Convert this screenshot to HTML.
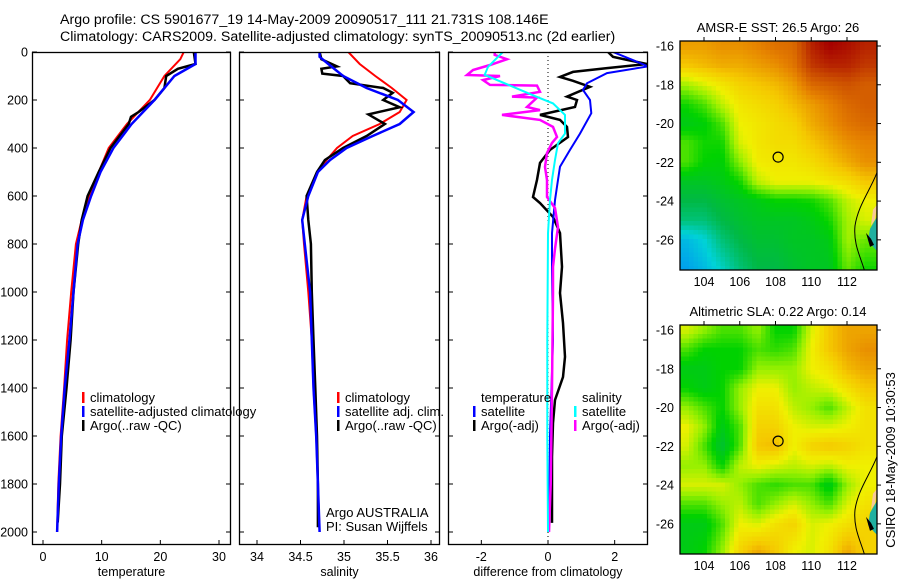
<!DOCTYPE html>
<html><head><meta charset="utf-8">
<style>
html,body{margin:0;padding:0;background:#fff;}
svg{display:block;font-family:"Liberation Sans",Arial,sans-serif;}
text{fill:#000;}
</style></head>
<body>
<svg id="fig" width="900" height="580" viewBox="0 0 900 580" xmlns="http://www.w3.org/2000/svg">
<text x="60" y="24" font-size="14.2">Argo profile: CS 5901677_19 14-May-2009 20090517_111 21.731S 108.146E</text>
<text x="60" y="41" font-size="14.2">Climatology: CARS2009. Satellite-adjusted climatology: synTS_20090513.nc (2d earlier)</text>
<g id="g"></g>
</svg>
<script>
// ---------- DATA ----------
const tClimDepth = [0,30,100,200,300,400,500,600,700,800,1000,1200,1400,1600,1800,2000];
const tClimVal   = [24,23.4,20.7,18.2,14.3,11.2,9.5,7.9,6.6,5.6,4.8,4.1,3.6,3.0,2.6,2.4];
const tSatDepth  = [0,50,100,200,300,400,500,600,700,800,1000,1200,1400,1600,1800,2000];
const tSatVal    = [26,26,22.4,19,15.1,12,9.8,8.2,6.8,5.9,5.2,4.5,3.7,3.1,2.7,2.4];
const tArgoDepth = [0,50,70,100,150,200,250,270,300,400,500,600,700,800,1000,1200,1400,1600,1800,1960];
const tArgoVal   = [25.7,26,23,21,20.7,19,16.3,15,14.6,11.5,9.5,7.6,6.6,6,5.2,4.7,4,3.2,2.9,2.5];

const sClimDepth = [0,50,100,150,200,250,300,350,400,450,500,600,700,800,1000,1200,1400,1600,1800,2000];
const sClimVal   = [35.05,35.18,35.36,35.55,35.72,35.64,35.41,35.1,34.92,34.8,34.7,34.57,34.52,34.54,34.59,34.63,34.65,34.68,34.7,34.72];
const sSatDepth  = [0,20,50,100,150,200,250,300,350,400,450,500,600,700,800,1000,1200,1400,1600,1800,2000];
const sSatVal    = [34.72,34.72,34.82,34.99,35.26,35.62,35.8,35.64,35.33,35.03,34.84,34.7,34.59,34.52,34.55,34.61,34.63,34.65,34.68,34.7,34.72];
const sArgoDepth = [0,30,60,70,90,100,130,150,170,200,230,260,300,350,400,450,500,600,700,800,1000,1200,1400,1600,1800,1980];
const sArgoVal   = [34.72,34.74,34.92,34.74,34.75,34.99,35.07,35.45,35.56,35.45,35.64,35.28,35.47,35.26,34.99,34.78,34.69,34.57,34.59,34.62,34.63,34.65,34.67,34.69,34.7,34.7];

const dTSatDepth = [0,46,60,88,130,158,200,255,340,408,478,533,617,755,895,1200,1600,2000];
const dTSatVal   = [1.95,2.76,3.0,1.77,1.17,1.05,1.26,1.3,0.96,0.66,0.36,0.3,0.21,0.12,0.12,0.15,0.06,0.03];
const dTArgoDepth = [0,20,33,50,67,83,104,120,145,186,200,229,262,283,312,354,408,462,533,604,629,687,754,895,1004,1129,1270,1354,1450,1546,1687,1825,1962];
const dTArgoVal   = [1.8,1.95,2.37,2.97,1.77,0.75,0.36,0.75,1.26,0.57,0.87,0.81,-0.24,0.36,0.57,0.6,0.06,-0.24,-0.33,-0.45,-0.24,0.15,0.36,0.42,0.36,0.45,0.51,0.45,0.21,0.15,0.12,0.12,0.12];
const dSSatDepth = [0,20,62,95,145,187,214,262,340,380,450,533,617,755,1200,1600,2000];
const dSSatVal   = [-1.35,-1.5,-1.8,-1.9,-1.05,-0.33,0.15,0.51,0.51,0.3,0.21,0.12,0.06,0.0,-0.02,-0.02,0.0];
const dSArgoDepth = [0,12,30,54,75,96,100,117,137,140,166,186,190,229,242,262,283,312,354,379,421,479,533,604,650,729,820,895,1004,1400,1800,2000];
const dSArgoVal   = [-1.6,-1.6,-1.23,-1.74,-2.25,-2.43,-1.44,-1.95,-1.74,-0.33,-0.24,-1.08,-0.33,-0.63,-0.24,-1.38,-0.24,0.15,0.27,0.12,-0.03,-0.09,-0.03,-0.03,0.21,0.3,0.21,0.15,0.15,0.12,0.08,0.03];

const depthTicks = [0,200,400,600,800,1000,1200,1400,1600,1800,2000];
const tempTicks = [0,10,20,30];
const salTicks = [34,34.5,35,35.5,36];
const salTickLabels = ["34","34.5","35","35.5","36"];
const diffTicks = [-2,0,2];
const lonTicks = [104,106,108,110,112];
const latTicks = [-16,-18,-20,-22,-24,-26];

// map grids (colour index 0..1), rows lat -16..-27.5, cols lon 103..113
const mapLats = [-16,-17,-18,-19,-20,-21,-22,-23,-24,-25,-26,-27.5];
const mapLons = [103,104,105,106,107,108,109,110,111,112,113];
const sstGrid = [
[.76,.76,.78,.78,.8,.83,.84,.95,1,.98,.95],
[.7,.72,.74,.74,.76,.78,.82,.92,.95,.95,.92],
[.56,.6,.64,.68,.7,.72,.76,.84,.86,.88,.86],
[.46,.5,.58,.64,.66,.68,.72,.76,.8,.84,.86],
[.42,.44,.5,.62,.64,.66,.68,.74,.78,.82,.84],
[.5,.46,.46,.6,.64,.66,.66,.7,.74,.78,.8],
[.5,.45,.44,.54,.63,.64,.64,.66,.7,.74,.78],
[.4,.4,.42,.46,.58,.62,.62,.62,.64,.66,.7],
[.35,.35,.38,.4,.42,.45,.45,.46,.5,.58,.62],
[.3,.3,.35,.38,.4,.4,.4,.42,.46,.56,.6],
[.15,.2,.3,.35,.38,.38,.4,.4,.42,.56,.52],
[.1,.15,.22,.3,.35,.35,.38,.4,.4,.52,.46]];
const slaGrid = [
[.6,.55,.5,.5,.55,.45,.45,.6,.7,.75,.75],
[.5,.45,.45,.45,.5,.48,.5,.62,.7,.75,.78],
[.42,.42,.45,.45,.55,.55,.55,.62,.65,.72,.75],
[.45,.42,.45,.55,.62,.62,.55,.58,.6,.65,.7],
[.55,.5,.45,.55,.65,.65,.58,.55,.5,.58,.65],
[.62,.55,.42,.5,.68,.68,.62,.6,.6,.62,.65],
[.6,.5,.38,.5,.7,.72,.62,.68,.7,.68,.65],
[.55,.55,.45,.58,.62,.6,.58,.6,.58,.62,.62],
[.6,.6,.6,.55,.5,.48,.5,.5,.42,.55,.62],
[.5,.5,.55,.58,.5,.55,.6,.55,.5,.6,.65],
[.42,.42,.5,.62,.6,.65,.68,.6,.62,.65,.68],
[.42,.45,.55,.68,.75,.7,.62,.6,.65,.75,.68]];
const argoLon = 108.146, argoLat = -21.731;

// ---------- DRAWING ----------
const NS="http://www.w3.org/2000/svg";
const G=document.getElementById('g');
function mk(tag,attrs,parent){const e=document.createElementNS(NS,tag);for(const k in attrs)e.setAttribute(k,attrs[k]);(parent||G).appendChild(e);return e;}
function lin(d0,d1,r0,r1){return v=>r0+(v-d0)*(r1-r0)/(d1-d0);}

const Y0=52,Y1=545;
const yD = lin(0,2000,52,532);

const panels=[
 {name:'temperature-panel',x0:32,x1:231,xs:lin(0,30,43,219),ticks:tempTicks,labels:tempTicks.map(String),title:'temperature',yl:true},
 {name:'salinity-panel',x0:239,x1:440,xs:lin(34,36,257,431),ticks:salTicks,labels:salTickLabels,title:'salinity'},
 {name:'difference-panel',x0:448,x1:648,xs:lin(-3,3,448,648),ticks:diffTicks,labels:diffTicks.map(String),title:'difference from climatology'}
];

function line(name,xs,depths,vals,color,w,parent){
  const pts=depths.map((d,i)=>xs(vals[i]).toFixed(1)+','+yD(d).toFixed(1)).join(' ');
  const p=mk('polyline',{points:pts,fill:'none',stroke:color,'stroke-width':w,'stroke-linejoin':'miter'},parent);
  
  
}

panels.forEach((P,pi)=>{
  const g=mk('g',{});
  
  
  const cp=mk('clipPath',{id:'cp'+pi},g);
  mk('rect',{x:P.x0,y:Y0,width:P.x1-P.x0,height:Y1-Y0},cp);
  const lg=mk('g',{'clip-path':'url(#cp'+pi+')'},g);
  if(pi===0){
    line('temp-climatology-line',P.xs,tClimDepth,tClimVal,'#ff0000',2,lg);
    line('temp-argo-line',P.xs,tArgoDepth,tArgoVal,'#000',2.5,lg);
    line('temp-satellite-line',P.xs,tSatDepth,tSatVal,'#0000ff',2.5,lg);
  } else if(pi===1){
    line('sal-climatology-line',P.xs,sClimDepth,sClimVal,'#ff0000',2,lg);
    line('sal-argo-line',P.xs,sArgoDepth,sArgoVal,'#000',2.5,lg);
    line('sal-satellite-line',P.xs,sSatDepth,sSatVal,'#0000ff',2.5,lg);
  } else {
    const z=mk('line',{x1:P.xs(0),x2:P.xs(0),y1:Y0,y2:Y1,stroke:'#000','stroke-width':1,'stroke-dasharray':'1,3'},lg);
    
    
    line('diff-temp-argo-line',P.xs,dTArgoDepth,dTArgoVal,'#000',2.5,lg);
    line('diff-temp-satellite-line',P.xs,dTSatDepth,dTSatVal,'#0000ff',2,lg);
    line('diff-sal-argo-line',P.xs,dSArgoDepth,dSArgoVal,'#ff00ff',2.5,lg);
    line('diff-sal-satellite-line',P.xs,dSSatDepth,dSSatVal,'#00ffff',2,lg);
  }
  const fr=mk('rect',{x:P.x0+0.5,y:Y0+0.5,width:P.x1-P.x0-1,height:Y1-Y0-1,fill:'none',stroke:'#000','stroke-width':1.3},g);
  
  
  P.ticks.forEach((t,i)=>{
    const x=P.xs(t);
    mk('line',{x1:x,x2:x,y1:Y1,y2:Y1-5,stroke:'#000'},g);
    const tl=mk('text',{x:x,y:561,'font-size':12.5,'text-anchor':'middle'},g);
    tl.textContent=P.labels[i];
    
    
  });
  depthTicks.forEach(d=>{
    const y=yD(d);
    mk('line',{x1:P.x0,x2:P.x0+5,y1:y,y2:y,stroke:'#000'},g);
    mk('line',{x1:P.x1,x2:P.x1-5,y1:y,y2:y,stroke:'#000'},g);
    if(P.yl){
      const tl=mk('text',{x:28,y:y+4.5,'font-size':12.5,'text-anchor':'end'},g);
      tl.textContent=String(d);
      
      
    }
  });
  const at=mk('text',{x:(P.x0+P.x1)/2,y:576,'font-size':12.5,'text-anchor':'middle'},g);
  at.textContent=P.title;
  
  
});

function legend(x,y,items,name,clipW){
  const g=mk('g',{});
  
  
  items.forEach((it,i)=>{
    const yy=y+i*14;
    if(it.c) mk('rect',{x:x,y:yy-10,width:2.5,height:11,fill:it.c},g);
    const t=mk('text',{x:x+8,y:yy,'font-size':13},g);
    t.textContent=it.t;
    
    
  });
}
legend(82,402,[{c:'#ff0000',t:'climatology'},{c:'#0000ff',t:'satellite-adjusted climatology'},{c:'#000',t:'Argo(..raw -QC)'}],'temperature-legend');
legend(337,402,[{c:'#ff0000',t:'climatology'},{c:'#0000ff',t:'satellite adj. clim.'},{c:'#000',t:'Argo(..raw -QC)'}],'salinity-legend');
legend(473,402,[{c:null,t:'temperature'},{c:'#0000ff',t:'satellite'},{c:'#000',t:'Argo(-adj)'}],'diff-temp-legend');
legend(574,402,[{c:null,t:'salinity'},{c:'#00ffff',t:'satellite'},{c:'#ff00ff',t:'Argo(-adj)'}],'diff-sal-legend');
[['Argo AUSTRALIA',517],['PI: Susan Wijffels',531]].forEach(a=>{
  const t=mk('text',{x:326,y:a[1],'font-size':13});
  t.textContent=a[0];
  
  
});

// colormap
const cstops=[[0,[0,110,255]],[0.2,[0,210,215]],[0.35,[0,185,70]],[0.45,[0,210,0]],[0.55,[150,240,0]],[0.62,[240,240,0]],[0.7,[245,200,0]],[0.8,[230,130,0]],[0.9,[200,70,0]],[1,[165,0,0]]];
function cmap(v){v=Math.max(0,Math.min(1,v));for(let i=1;i<cstops.length;i++){if(v<=cstops[i][0]){const a=cstops[i-1],b=cstops[i];const f=(v-a[0])/(b[0]-a[0]);return 'rgb('+a[1].map((c,k)=>Math.round(c+(b[1][k]-c)*f)).join(',')+')';}}return 'rgb(165,0,0)';}
function interp(grid,lon,lat){
  let r=0;while(r<mapLats.length-2&&lat<mapLats[r+1])r++;
  let c=0;while(c<mapLons.length-2&&lon>mapLons[c+1])c++;
  let fr=(lat-mapLats[r])/(mapLats[r+1]-mapLats[r]);let fc=(lon-mapLons[c])/(mapLons[c+1]-mapLons[c]);
  fr=Math.max(0,Math.min(1,fr));fc=Math.max(0,Math.min(1,fc));
  const a=grid[r][c],b=grid[r][c+1],d=grid[r+1][c],e=grid[r+1][c+1];
  return a*(1-fr)*(1-fc)+b*(1-fr)*fc+d*fr*(1-fc)+e*fr*fc;
}
function drawMap(name,grid,top,bottom,title,titleY){
  const x0=680,x1=877;
  const xs=lin(104,112,704,847);
  const ys=lin(-16,-26,top+5,top+5+193*(bottom-top)/228);
  const g=mk('g',{});
  
  
  const cp=mk('clipPath',{id:'cp'+name},g);
  mk('rect',{x:x0,y:top,width:x1-x0,height:bottom-top},cp);
  const cg=mk('g',{'clip-path':'url(#cp'+name+')'},g);
  const cell=4.5;
  for(let y=top;y<bottom;y+=cell){
    for(let x=x0;x<x1;x+=cell){
      const lon=104+(x+cell/2-704)/(xs(112)-704)*8;
      const lat=-16+(y+cell/2-ys(-16))/(ys(-26)-ys(-16))*(-10);
      mk('rect',{x:x,y:y,width:cell+0.3,height:cell+0.3,fill:cmap(interp(grid,lon,lat))},cg);
    }
  }
  const s=(bottom-top)/228;
  mk('path',{d:`M877,${top+(204-41)*s} L875,${top+(219-41)*s} L871,${top+(225-41)*s} L873,${top+(209-41)*s} Z`,fill:'#f8c898',stroke:'none'},cg);
  mk('path',{d:`M877,${top+(216-41)*s} L870,${top+(228-41)*s} L868,${top+(240-41)*s} L874,${top+(247-41)*s} L877,${top+(250-41)*s} Z`,fill:'#20b0a0',stroke:'none'},cg);
  mk('path',{d:`M866,${top+(232-41)*s} L871,${top+(238-41)*s} L874,${top+(244-41)*s} L870,${top+(246-41)*s} Z`,fill:'#000'},cg);
  const c1=mk('path',{d:`M877,${top+(172-41)*s} C870,${top+(190-41)*s} 858,${top+(205-41)*s} 855,${top+(225-41)*s} C853,${top+(245-41)*s} 862,${top+(258-41)*s} 866,${top+(275-41)*s}`,fill:'none',stroke:'#000','stroke-width':1},cg);
  
  
  const circ=mk('circle',{cx:xs(argoLon),cy:ys(argoLat),r:5,fill:'none',stroke:'#000','stroke-width':1.2},g);
  
  
  const fr=mk('rect',{x:x0,y:top,width:x1-x0,height:bottom-top,fill:'none',stroke:'#000','stroke-width':1.3},g);
  
  
  lonTicks.forEach(l=>{
    const x=xs(l);
    mk('line',{x1:x,x2:x,y1:top,y2:top-4,stroke:'#000'},g);
    const t=mk('text',{x:x,y:bottom+16,'font-size':12.5,'text-anchor':'middle'},g);
    t.textContent=String(l);
    
    
  });
  latTicks.forEach(l=>{
    const y=ys(l);
    mk('line',{x1:x1,x2:x1+4,y1:y,y2:y,stroke:'#000'},g);
    const t=mk('text',{x:x0-6,y:y+4.5,'font-size':12.5,'text-anchor':'end'},g);
    t.textContent=String(l);
    
    
  });
  const tt=mk('text',{x:778,y:titleY,'font-size':13,'text-anchor':'middle'},g);
  tt.textContent=title;
  
  
}
drawMap('sst-map',sstGrid,41,270,'AMSR-E SST: 26.5 Argo: 26',32);
drawMap('sla-map',slaGrid,325,554,'Altimetric SLA: 0.22 Argo: 0.14',316);

const st=mk('text',{x:0,y:0,'font-size':13,'text-anchor':'middle',transform:'translate(895,460) rotate(-90)'});
st.textContent='CSIRO 18-May-2009 10:30:53';


</script>
</body></html>
